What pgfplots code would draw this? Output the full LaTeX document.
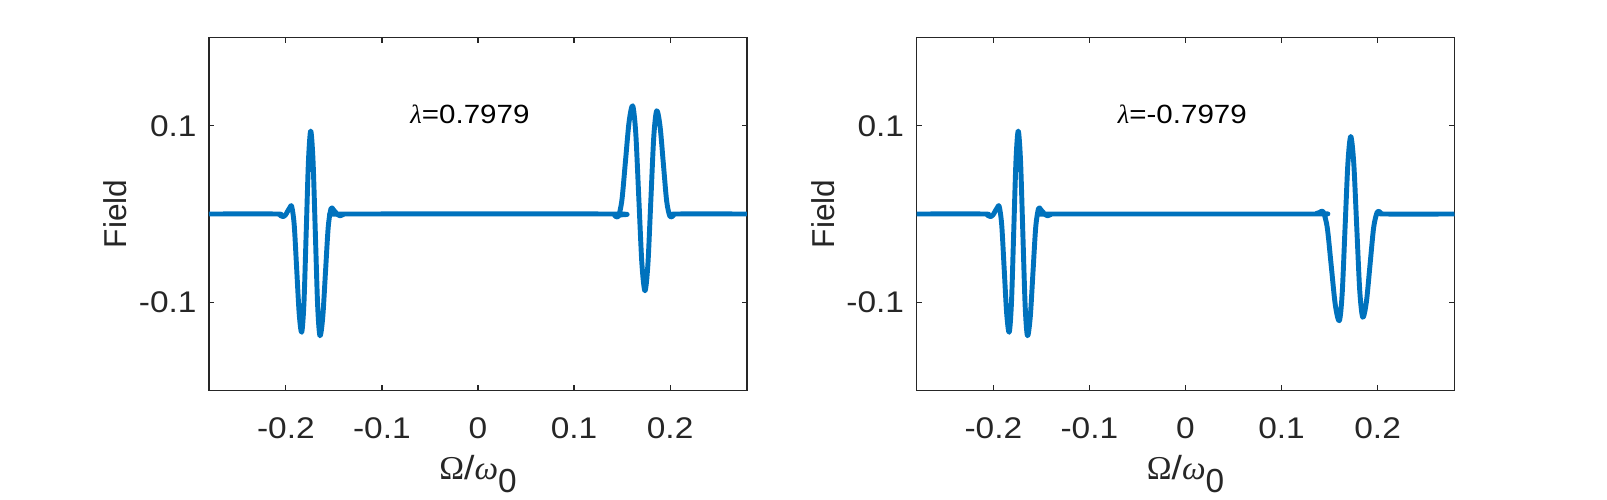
\documentclass[border=0pt]{standalone}
\usepackage{pgfplots}
\pgfplotsset{compat=1.18}
\usepackage{fontspec}
\setmainfont{Liberation Sans}[FakeStretch=1.12]
\newfontfamily\plainsans{Liberation Sans}
\newfontfamily\serifgreek{Liberation Serif}
\definecolor{mblue}{rgb}{0,0.447,0.741}
\definecolor{mgray}{rgb}{0.15,0.15,0.15}
\pgfplotsset{
  panel/.style={
    scale only axis,
    width=5.38cm, height=3.53cm,
    anchor=south west,
    xmin=-0.28, xmax=0.28, ymin=-0.2, ymax=0.2,
    xtick={-0.2,-0.1,0,0.1,0.2},
    xticklabels={-0.2,-0.1,0,0.1,0.2},
    ytick={-0.1,0.1},
    yticklabels={-0.1,0.1},
    tick align=inside,
    major tick length=0.054cm,
    axis line style={mgray, line width=0.35pt},
    tick style={mgray, line width=0.35pt},
    every tick label/.append style={font=\fontsize{8.5}{10}\selectfont, text=mgray},
    xticklabel style={yshift=-0.15cm},
    yticklabel style={xshift=0cm},
    xlabel={{\serifgreek Ω}/{\serifgreek\itshape ω}\raisebox{-1.3mm}{\plainsans 0}},
    xlabel style={at={(axis description cs:0.5,-0.2535)}, anchor=base, font=\fontsize{9.5}{10}\selectfont, text=mgray},
    ylabel={{\plainsans Field}},
    ylabel style={at={(axis description cs:-0.153,0.5)}, anchor=base, font=\fontsize{9}{10}\selectfont, text=mgray},
    clip=true,
  }
}
\begin{document}
\begin{tikzpicture}
\path[use as bounding box] (0,0) rectangle (16.07cm,5cm);
\begin{axis}[panel, at={(2.09cm,1.095cm)}]
\addplot[mblue, line width=1.4pt, line join=round, smooth, tension=0.5] coordinates {
(-0.2800,0) (-0.2100,0) (-0.2060,-0.0015) (-0.2027,-0.003) (-0.2005,-0.0013) (-0.1983,0.0028) (-0.1961,0.0068) (-0.1939,0.0085) (-0.1913,-0.0124) (-0.1887,-0.0628) (-0.1861,-0.1131) (-0.1835,-0.134) (-0.18115,-0.1006) (-0.1788,-0.020) (-0.17645,0.0606) (-0.1741,0.094) (-0.1717,0.060) (-0.1693,-0.022) (-0.1669,-0.104) (-0.1645,-0.138) (-0.1616,-0.1169) (-0.15875,-0.0659) (-0.1559,-0.0149) (-0.1530,0.0062) (-0.1507,0.0050) (-0.14835,0.0021) (-0.1460,-0.0008) (-0.1437,-0.002) (-0.1400,-0.0005) (-0.1370,0)
(0.1370,0) (0.1420,-0.0015) (0.1460,-0.003) (0.14975,0.0154) (0.1535,0.0598) (0.15725,0.1042) (0.1610,0.1226) (0.1642,0.0919) (0.1674,0.0178) (0.1706,-0.0563) (0.1738,-0.087) (0.17685,-0.0571) (0.1799,0.015) (0.18295,0.0871) (0.1860,0.117) (0.1895,0.0994) (0.19295,0.057) (0.1964,0.0146) (0.1999,-0.003) (0.2035,-0.0015) (0.2070,0) (0.2800,0)
};
\node[anchor=base west, inner sep=0pt, font=\fontsize{7.5}{9}\selectfont, text=black] at (axis cs:-0.071,0.1028) {{\serifgreek\itshape λ}=0.7979};
\end{axis}
\begin{axis}[panel, at={(9.165cm,1.095cm)}]
\addplot[mblue, line width=1.4pt, line join=round, smooth, tension=0.5] coordinates {
(-0.2800,0) (-0.2100,0) (-0.2060,-0.0015) (-0.2027,-0.003) (-0.2005,-0.0013) (-0.1983,0.0028) (-0.1961,0.0068) (-0.1939,0.0085) (-0.1913,-0.0124) (-0.1887,-0.0628) (-0.1861,-0.1131) (-0.1835,-0.134) (-0.18115,-0.1006) (-0.1788,-0.020) (-0.17645,0.0606) (-0.1741,0.094) (-0.1717,0.060) (-0.1693,-0.022) (-0.1669,-0.104) (-0.1645,-0.138) (-0.1616,-0.1169) (-0.15875,-0.0659) (-0.1559,-0.0149) (-0.1530,0.0062) (-0.1507,0.0050) (-0.14835,0.0021) (-0.1460,-0.0008) (-0.1437,-0.002) (-0.1400,-0.0005) (-0.1370,0)
(0.1300,0) (0.1360,0.0005) (0.1400,0.0020) (0.1434,0.0025) (0.14758,-0.0156) (0.15175,-0.0593) (0.15593,-0.1029) (0.1601,-0.121) (0.16308,-0.0904) (0.16605,-0.0166) (0.16903,0.0572) (0.1720,0.0878) (0.17513,0.0578) (0.17825,-0.0146) (0.18138,-0.087) (0.1845,-0.117) (0.1883,-0.0995) (0.1921,-0.0573) (0.1959,-0.015) (0.1997,0.0025) (0.2030,0.0015) (0.2070,0) (0.2800,0)
};
\node[anchor=base west, inner sep=0pt, font=\fontsize{7.5}{9}\selectfont, text=black] at (axis cs:-0.071,0.1028) {{\serifgreek\itshape λ}=-0.7979};
\end{axis}
\end{tikzpicture}
\end{document}
